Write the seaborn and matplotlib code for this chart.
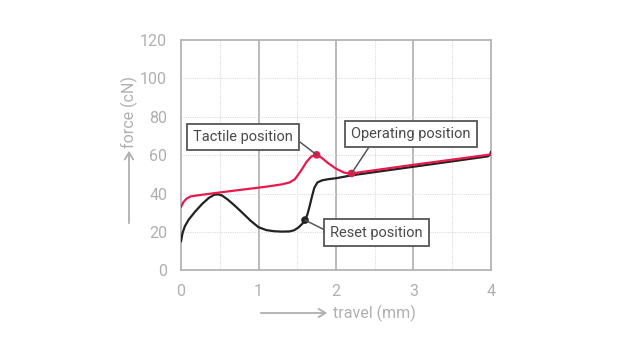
import matplotlib
matplotlib.use("Agg")
import matplotlib.pyplot as plt
from matplotlib.patches import FancyArrowPatch
import seaborn as sns
import pandas as pd

# ── data ─────────────────────────────────────────────────────────────────────
press_travel = [0.0, 0.03, 0.07, 0.12, 0.2, 0.35, 0.5, 0.7, 0.9, 1.1, 1.3, 1.4,
                1.47, 1.55, 1.62, 1.68, 1.75, 1.82, 1.9, 2.0, 2.1, 2.16, 2.2,
                2.5, 3.0, 3.5, 4.0]
press_force = [33.0, 35.5, 37.3, 38.5, 39.0, 39.8, 40.6, 41.6, 42.6, 43.6, 44.8, 45.8,
               47.5, 52.0, 56.5, 59.3, 60.2, 58.5, 55.8, 53.0, 51.0, 50.5, 50.5,
               52.2, 55.0, 57.7, 60.4]

release_travel = [0.0, 0.02, 0.05, 0.1, 0.18, 0.27, 0.36, 0.43, 0.48, 0.53, 0.6,
                  0.7, 0.8, 0.9, 1.0, 1.1, 1.2, 1.3, 1.4, 1.46, 1.52, 1.57, 1.6,
                  1.63, 1.66, 1.69, 1.72, 1.76, 1.82, 1.9, 2.0, 2.2, 2.5, 3.0,
                  3.5, 3.96, 3.99, 4.0]
release_force = [15.0, 19.5, 23.0, 26.5, 30.5, 34.5, 37.8, 39.4, 39.6, 39.0, 37.0,
                 33.5, 29.7, 25.8, 22.5, 21.0, 20.4, 20.2, 20.3, 20.9, 22.5, 24.5, 26.2,
                 29.0, 33.5, 38.5, 43.0, 45.8, 46.9, 47.5, 48.0, 49.5, 51.2, 54.0,
                 56.8, 59.4, 60.3, 61.8]

tactile_pt = (1.75, 60.2)
operating_pt = (2.2, 50.5)
reset_pt = (1.6, 26.2)

x_ticks = [0, 1, 2, 3, 4]
y_ticks = [0, 20, 40, 60, 80, 100, 120]

RED = "#e8194b"
BLACK = "#222222"
GREY = "#b4b4b4"
TXT = "#4a4a4a"

sns.set_style("white")
plt.rcParams["font.family"] = ["Roboto", "DejaVu Sans"]

press = pd.DataFrame({"travel": press_travel, "force": press_force})
release = pd.DataFrame({"travel": release_travel, "force": release_force})

fig = plt.figure(figsize=(6.3, 3.55), dpi=100)
ax = fig.add_axes([181 / 630, 84.6 / 355, 310 / 630, 230.4 / 355])

# grid: solid majors on x, dotted minors, dotted horizontals
for xv in [0.5, 1.5, 2.5, 3.5]:
    ax.axvline(xv, color="#dcdcdc", lw=0.8, ls=(0, (1, 1)), zorder=0)
for xv in [1, 2, 3]:
    ax.axvline(xv, color=GREY, lw=1.3, zorder=0)
for yv in y_ticks[1:-1]:
    ax.axhline(yv, color="#dcdcdc", lw=0.8, ls=(0, (1, 1)), zorder=0)

sns.lineplot(data=release, x="travel", y="force", sort=False, estimator=None,
             color=BLACK, lw=1.6, ax=ax, zorder=3)
sns.lineplot(data=press, x="travel", y="force", sort=False, estimator=None,
             color=RED, lw=1.6, ax=ax, zorder=4)

pts = pd.DataFrame({"travel": [tactile_pt[0], operating_pt[0], reset_pt[0]],
                    "force": [tactile_pt[1], operating_pt[1], reset_pt[1]],
                    "kind": ["t", "o", "r"]})
sns.scatterplot(data=pts, x="travel", y="force", hue="kind",
                palette={"t": RED, "o": RED, "r": BLACK}, s=30, legend=False,
                edgecolor="none", ax=ax, zorder=6)

ax.set_xlim(0, 4)
ax.set_ylim(0, 120)
ax.set_xticks(x_ticks)
ax.set_yticks(y_ticks)
ax.tick_params(colors=GREY, labelcolor="#b0b0b0", labelsize=11.5, length=6,
               width=1.3, pad=4)
for s in ax.spines.values():
    s.set_color(GREY)
    s.set_linewidth(1.3)
ax.set_xlabel("")
ax.set_ylabel("")

box = dict(boxstyle="square,pad=0.42", fc="white", ec="#555555", lw=1.3)
ann_kw = dict(fontsize=10.5, color=TXT, fontweight="normal", ha="center",
              va="center", bbox=box, zorder=7)
ax.annotate("Tactile position", xy=tactile_pt, xytext=(0.805, 69.5),
            arrowprops=dict(arrowstyle="-", color="#555555", lw=1.1,
                            relpos=(1.0, 0.5), shrinkA=0, shrinkB=0), **ann_kw)
ax.annotate("Operating position", xy=operating_pt, xytext=(2.97, 71.0),
            arrowprops=dict(arrowstyle="-", color="#555555", lw=1.1,
                            relpos=(0.18, 0.0), shrinkA=0, shrinkB=0), **ann_kw)
ax.annotate("Reset position", xy=reset_pt, xytext=(2.52, 19.7),
            arrowprops=dict(arrowstyle="-", color="#555555", lw=1.1,
                            relpos=(0.0, 0.5), shrinkA=0, shrinkB=0), **ann_kw)

# axis labels with leading arrows (figure pixel coords)
W, H = 630, 355
fig.text(374 / W, 1 - 313 / H, "travel (mm)", fontsize=11.5, color="#b0b0b0",
         ha="center", va="center")
fig.add_artist(FancyArrowPatch(
    (258 / W, 1 - 313 / H), (330 / W, 1 - 313 / H), transform=fig.transFigure,
    arrowstyle="->,head_length=5,head_width=3", color="#b0b0b0", lw=1.3))
fig.text(129 / W, 1 - 112 / H, "force (cN)", fontsize=11.5, color="#b0b0b0",
         ha="center", va="center", rotation=90)
fig.add_artist(FancyArrowPatch(
    (129 / W, 1 - 226 / H), (129 / W, 1 - 148 / H), transform=fig.transFigure,
    arrowstyle="->,head_length=5,head_width=3", color="#b0b0b0", lw=1.3))

fig.savefig("out.png", dpi=100, facecolor="white")
